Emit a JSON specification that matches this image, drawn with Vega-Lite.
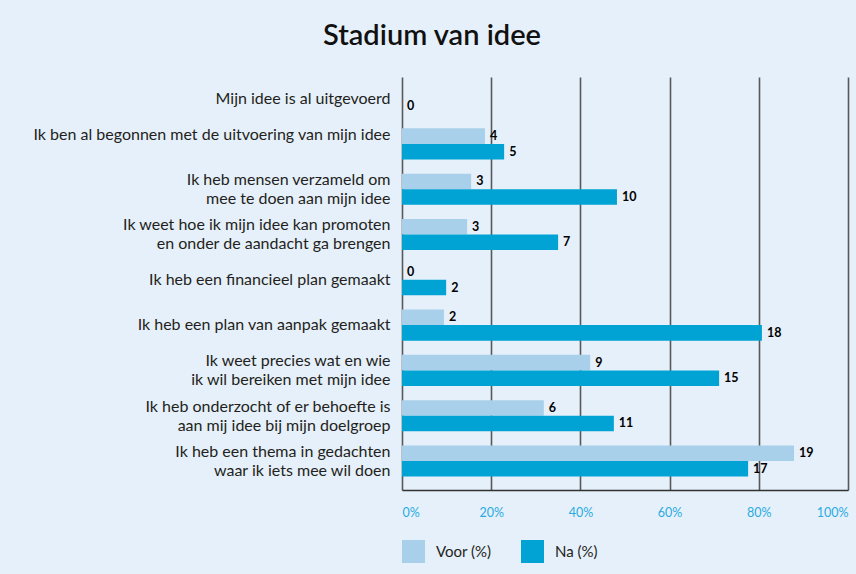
{
  "$schema": "https://vega.github.io/schema/vega-lite/v6.json",
  "width": 446,
  "height": 413,
  "autosize": {"type": "none"},
  "padding": {"left": 402, "top": 77, "right": 8, "bottom": 84},
  "background": "#E6F0FA",
  "title": {
    "text": "Stadium van idee",
    "anchor": "middle",
    "frame": "group",
    "dx": -193,
    "offset": 3,
    "baseline": "alphabetic",
    "font": "Lato",
    "fontSize": 29,
    "fontWeight": 600,
    "color": "#111111"
  },
  "data": {
    "values": [
      {"cat": "Mijn idee is al uitgevoerd", "series": "Voor (%)", "pct": 0, "n": null},
      {"cat": "Mijn idee is al uitgevoerd", "series": "Na (%)", "pct": 0, "n": 0},
      {"cat": "Ik ben al begonnen met de uitvoering van mijn idee", "series": "Voor (%)", "pct": 18.6, "n": 4},
      {"cat": "Ik ben al begonnen met de uitvoering van mijn idee", "series": "Na (%)", "pct": 22.9, "n": 5},
      {"cat": "Ik heb mensen verzameld om|mee te doen aan mijn idee", "series": "Voor (%)", "pct": 15.5, "n": 3},
      {"cat": "Ik heb mensen verzameld om|mee te doen aan mijn idee", "series": "Na (%)", "pct": 48.2, "n": 10},
      {"cat": "Ik weet hoe ik mijn idee kan promoten|en onder de aandacht ga brengen", "series": "Voor (%)", "pct": 14.6, "n": 3},
      {"cat": "Ik weet hoe ik mijn idee kan promoten|en onder de aandacht ga brengen", "series": "Na (%)", "pct": 35.0, "n": 7},
      {"cat": "Ik heb een financieel plan gemaakt", "series": "Voor (%)", "pct": 0, "n": 0},
      {"cat": "Ik heb een financieel plan gemaakt", "series": "Na (%)", "pct": 9.9, "n": 2},
      {"cat": "Ik heb een plan van aanpak gemaakt", "series": "Voor (%)", "pct": 9.4, "n": 2},
      {"cat": "Ik heb een plan van aanpak gemaakt", "series": "Na (%)", "pct": 80.7, "n": 18},
      {"cat": "Ik weet precies wat en wie|ik wil bereiken met mijn idee", "series": "Voor (%)", "pct": 42.2, "n": 9},
      {"cat": "Ik weet precies wat en wie|ik wil bereiken met mijn idee", "series": "Na (%)", "pct": 71.1, "n": 15},
      {"cat": "Ik heb onderzocht of er behoefte is|aan mij idee bij mijn doelgroep", "series": "Voor (%)", "pct": 31.8, "n": 6},
      {"cat": "Ik heb onderzocht of er behoefte is|aan mij idee bij mijn doelgroep", "series": "Na (%)", "pct": 47.5, "n": 11},
      {"cat": "Ik heb een thema in gedachten|waar ik iets mee wil doen", "series": "Voor (%)", "pct": 87.9, "n": 19},
      {"cat": "Ik heb een thema in gedachten|waar ik iets mee wil doen", "series": "Na (%)", "pct": 77.6, "n": 17}
    ]
  },
  "encoding": {
    "y": {
      "field": "cat",
      "type": "nominal",
      "sort": null,
      "title": null,
      "scale": {"paddingInner": 0.313, "paddingOuter": 0.215, "align": 0.31},
      "axis": {
        "domain": false,
        "ticks": false,
        "grid": false,
        "labelExpr": "split(datum.label, '|')",
        "labelOffset": {"condition": {"test": "indexof(datum.value, '|') >= 0 || indexof(datum.value, 'begonnen') >= 0", "value": -9}, "value": 0},
        "labelPadding": 12,
        "labelFont": "Lato",
        "labelFontSize": 16,
        "labelFontWeight": "normal",
        "labelColor": "#231F20",
        "labelLineHeight": 19,
        "labelLimit": 400
      }
    },
    "yOffset": {
      "field": "series",
      "type": "nominal",
      "sort": ["Voor (%)", "Na (%)"],
      "scale": {"paddingInner": 0, "paddingOuter": 0}
    },
    "x": {
      "field": "pct",
      "type": "quantitative",
      "stack": null,
      "title": null,
      "scale": {"domain": [0, 100], "nice": false},
      "axis": {
        "values": [0, 20, 40, 60, 80, 100],
        "labelExpr": "datum.value + '%'",
        "labelFont": "Lato",
        "labelFontSize": 12.5,
        "labelColor": "#29ABE2",
        "labelPadding": 16,
        "labelFlush": true,
        "ticks": false,
        "grid": true,
        "gridColor": "#58595B",
        "gridWidth": 1.6,
        "gridOpacity": 1,
        "domainColor": "#333333",
        "domainWidth": 1.6
      }
    }
  },
  "layer": [
    {
      "mark": {"type": "bar", "cornerRadius": 0},
      "encoding": {
        "color": {
          "field": "series",
          "type": "nominal",
          "scale": {"domain": ["Voor (%)", "Na (%)"], "range": ["#A9D0EA", "#00A3D4"]},
          "legend": {
            "title": null,
            "orient": "none",
            "legendX": 0,
            "legendY": 463,
            "direction": "horizontal",
            "symbolType": "square",
            "symbolSize": 529,
            "symbolStrokeWidth": 0,
            "symbolOpacity": 1,
            "labelFont": "Lato",
            "labelFontSize": 15,
            "labelColor": "#231F20",
            "labelOffset": 11,
            "columnPadding": 29,
            "padding": 0
          }
        }
      }
    },
    {
      "transform": [{"filter": "datum.n != null"}],
      "mark": {"type": "text", "align": "left", "baseline": "middle", "dx": 5, "font": "Lato", "fontSize": 12.5, "fontWeight": "bold", "color": "#000000"},
      "encoding": {
        "text": {"field": "n", "type": "nominal"}
      }
    }
  ],
  "config": {
    "view": {"stroke": null}
  }
}
